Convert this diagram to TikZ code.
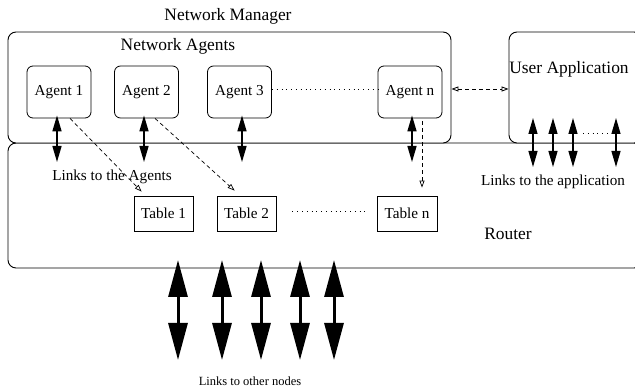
\documentclass[tikz,border=0pt]{standalone}
\usepackage{fontspec}
\setmainfont{Liberation Serif}
\usetikzlibrary{arrows.meta}
\begin{document}
\begin{tikzpicture}[x=1pt,y=-1pt,
  panel/.style={draw, line width=0.9pt, rounded corners=8pt, inner sep=0pt},
  agentbox/.style={draw, line width=0.8pt, rounded corners=6pt, minimum width=64pt,
    minimum height=52pt, inner sep=0pt, midtext},
  tablebox/.style={draw, line width=0.8pt, minimum width=59pt, minimum height=35pt,
    inner sep=0pt, midtext},
  bigtext/.style={font=\fontsize{17.4}{20}\selectfont},
  midtext/.style={font=\fontsize{15.2}{18}\selectfont},
  smalltext/.style={font=\fontsize{12.5}{15}\selectfont},
  agentlink/.style={line width=1.5pt, {Triangle[length=16pt,width=9pt]}-{Triangle[length=16pt,width=9pt]}},
  applink/.style={line width=1.3pt, {Triangle[length=16pt,width=9pt]}-{Triangle[length=16pt,width=9pt]}},
  nodelink/.style={line width=3pt, {Triangle[length=37pt,width=19pt]}-{Triangle[length=37pt,width=19pt]}},
  tablelink/.style={line width=0.7pt, dash pattern=on 4pt off 3pt, -{Triangle[open,length=7pt,width=5pt]}},
  applinkdash/.style={line width=0.8pt, dash pattern=on 4pt off 3pt,
    {Triangle[open,length=7pt,width=5pt]}-{Triangle[open,length=7pt,width=5pt]}},
  dots/.style={line width=0.6pt, dash pattern=on 0.8pt off 4pt}
]
\useasboundingbox (0,0) rectangle (635,387);
\clip (0,0) rectangle (635,387);

% outer panels
\node[panel, minimum width=634pt, minimum height=125pt] (router) at (325,205.5) {};
\node[panel, fill=white, minimum width=443pt, minimum height=111pt] (mgr) at (229.5,87.5) {};
\node[panel, fill=white, minimum width=133pt, minimum height=111pt] (app) at (575.5,87.5) {};

% titles
\node[bigtext] (mgrtitle) at (228,16) {Network Manager};
\node[bigtext] (agtitle) at (178,46) {Network Agents};
\node[bigtext] (apptitle) at (569,69) {User Application};
\node[bigtext] (routertitle) at (508,234) {Router};

% agents
\node[agentbox] (a1) at (59,92) {Agent 1};
\node[agentbox] (a2) at (146.5,92) {Agent 2};
\node[agentbox] (a3) at (239.5,92) {Agent 3};
\node[agentbox] (an) at (410,92) {Agent n};

% routing tables
\node[tablebox] (t1) at (163.5,213.5) {Table 1};
\node[tablebox] (t2) at (246.5,213.5) {Table 2};
\node[tablebox, minimum width=60pt] (tn) at (407,213.5) {Table n};

% ellipses
\draw[dots] ([yshift=3pt]a3.east) -- ([yshift=3pt]an.west);
\draw[dots] ([xshift=16pt,yshift=2.5pt]t2.east) -- ([xshift=-9pt,yshift=2.5pt]tn.west);

% manager <-> application
\draw[applinkdash] ([yshift=-1.5pt]mgr.east) -- ([yshift=-1.5pt]app.west);

% agent links into the router
\coordinate (l1) at (57,162);
\coordinate (l2) at (144,162);
\coordinate (l3) at (242,162);
\coordinate (ln) at (412,162);
\draw[agentlink] ([xshift=-2pt,yshift=3pt]a1.south) -- (l1);
\draw[agentlink] ([xshift=-2.5pt,yshift=3pt]a2.south) -- (l2);
\draw[agentlink] ([xshift=2.5pt,yshift=3pt]a3.south) -- (l3);
\draw[agentlink] ([xshift=2pt,yshift=3pt]an.south) -- (ln);
\node[midtext] (linkagents) at (112,177) {Links to the Agents};

% agents update their tables
\draw[tablelink] ([xshift=11pt]a1.south) -- ([xshift=8pt,yshift=4pt]t1.north west);
\draw[tablelink] ([xshift=8.5pt]a2.south) -- ([xshift=18pt,yshift=5pt]t2.north west);
\draw[tablelink] ([xshift=12pt,yshift=-3pt]an.south) -- ([xshift=15pt,yshift=8pt]tn.north);

% links to the application
\coordinate (p1) at (533,167);
\coordinate (p2) at (553,167);
\coordinate (p3) at (573,167);
\coordinate (p4) at (616,167);
\draw[applink] (533,118) -- (p1);
\draw[applink] (553,118) -- (p2);
\draw[applink] (573,118) -- (p3);
\draw[applink] (616,118) -- (p4);
\draw[dots] (583,133) -- (612,133);
\node[midtext] (linkapp) at (553,182) {Links to the application};

% links to other nodes
\foreach \i/\x in {1/178,2/222,3/261,4/300,5/334}{
  \coordinate (o\i) at (\x,360);
  \draw[nodelink] (\x,260) -- (o\i);
}
\node[smalltext] (linknodes) at (250,381) {Links to other nodes};
\end{tikzpicture}
\end{document}
